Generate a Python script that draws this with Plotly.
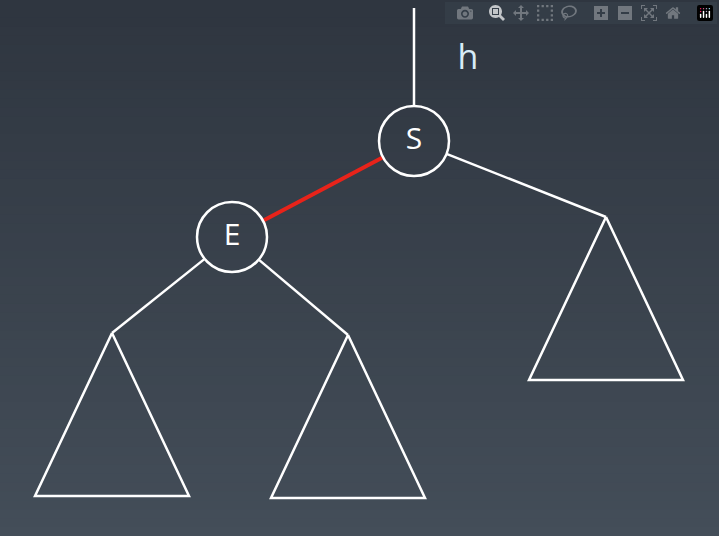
import plotly.graph_objects as go
import math

W, H = 719, 536
node_names = ["S", "E"]
node_x = [414, 232]
node_y = [141, 237]
node_r = 35
apex_names = ["R", "L", "M"]
apex_x = [606, 112, 348]
apex_y = [217, 333, 335]
tri_halfw = 77
tri_h = 163
# edges: (from, to, color)
edges = [("top", "S", "white"), ("S", "E", "#e8231a"), ("S", "R", "white"),
         ("E", "L", "white"), ("E", "M", "white")]
top_point = (414, 8)
label_text = "h"
label_pos = (468, 60)

pts = {"top": top_point}
for n, x, y in zip(node_names, node_x, node_y):
    pts[n] = (x, y)
for n, x, y in zip(apex_names, apex_x, apex_y):
    pts[n] = (x, y)

fig = go.Figure()
shapes = []
steps = 60
c0, c1 = (47, 54, 64), (68, 78, 89)
for i in range(steps):
    t = i / (steps - 1)
    c = tuple(int(c0[k] + (c1[k] - c0[k]) * t) for k in range(3))
    shapes.append(dict(type="rect", xref="x", yref="y", x0=0, x1=W,
                       y0=H * i / steps, y1=H * (i + 1) / steps + 1,
                       fillcolor="rgb(%d,%d,%d)" % c, line_width=0, layer="below"))

node_pts = [pts[n] for n in node_names]

def trim(p, q):
    (x0, y0), (x1, y1) = p, q
    d = math.hypot(x1 - x0, y1 - y0)
    ux, uy = (x1 - x0) / d, (y1 - y0) / d
    a = (x0 + ux * node_r, y0 + uy * node_r) if p in node_pts else (x0, y0)
    b = (x1 - ux * node_r, y1 - uy * node_r) if q in node_pts else (x1, y1)
    return a, b

for f, t, col in edges:
    a, b = trim(pts[f], pts[t])
    fig.add_trace(go.Scatter(x=[a[0], b[0]], y=[a[1], b[1]], mode="lines",
                             line=dict(color=col, width=4 if col != "white" else 2.5),
                             hoverinfo="skip", showlegend=False))
for x, y in zip(apex_x, apex_y):
    fig.add_trace(go.Scatter(x=[x, x - tri_halfw, x + tri_halfw, x],
                             y=[y, y + tri_h, y + tri_h, y], mode="lines",
                             line=dict(color="white", width=2.5),
                             hoverinfo="skip", showlegend=False))
for n, x, y in zip(node_names, node_x, node_y):
    shapes.append(dict(type="circle", xref="x", yref="y", x0=x - node_r, x1=x + node_r,
                       y0=y - node_r, y1=y + node_r, line=dict(color="white", width=2.5)))
fig.add_trace(go.Scatter(x=node_x, y=node_y, mode="text", text=node_names,
                         textfont=dict(family="Open Sans", size=30, color="white"),
                         hoverinfo="skip", showlegend=False))
fig.add_trace(go.Scatter(x=[label_pos[0]], y=[label_pos[1]], mode="text", text=[label_text],
                         textfont=dict(family="Open Sans", size=34, color="#d8ecf6"),
                         hoverinfo="skip", showlegend=False))

fig.update_layout(width=W, height=H, margin=dict(l=0, r=0, t=0, b=0),
                  paper_bgcolor="#3a434e", plot_bgcolor="#3a434e", shapes=shapes,
                  xaxis=dict(range=[0, W], visible=False),
                  yaxis=dict(range=[H, 0], visible=False))
fig.write_html("out.html")
with open("out.html", encoding="utf-8") as fh:
    html = fh.read()
html = html.replace("<head>", "<head><style>html,body{margin:0;padding:0;overflow:hidden;}</style>", 1)
with open("out.html", "w", encoding="utf-8") as fh:
    fh.write(html)
